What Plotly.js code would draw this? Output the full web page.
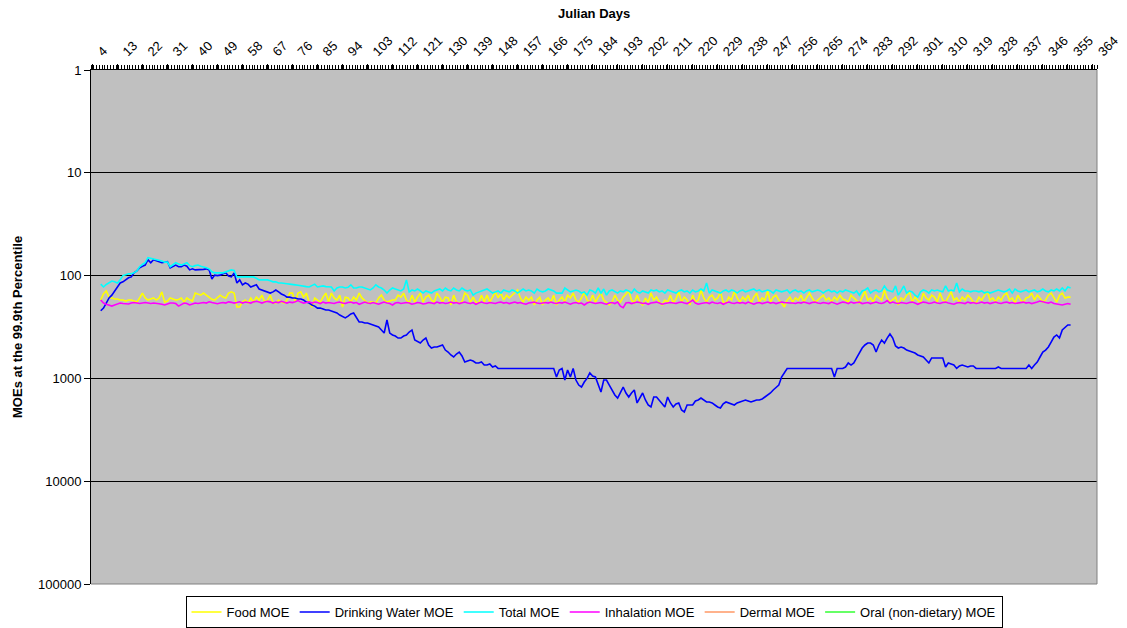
<!DOCTYPE html>
<html>
<head>
<meta charset="utf-8">
<script src="https://cdn.plot.ly/plotly-3.0.1.min.js"></script>
<style>
html,body{margin:0;padding:0;background:#ffffff;}
#chart{width:1127px;height:628px;}
</style>
</head>
<body>
<div id="chart"></div>
<script>
// Julian day of the first plotted value (one value per day)
const firstDay = 7;

// Category tick labels on the top axis
const tickDays = [4,13,22,31,40,49,58,67,76,85,94,103,112,121,130,139,148,157,166,175,184,193,202,211,220,229,238,247,256,265,274,283,292,301,310,319,328,337,346,355,364];
const yTickVals = [1,10,100,1000,10000,100000];
const yTickText = ["1","10","100","1000","10000","100000"];

// Food MOE (days 7..356)
const food = [
173,150,141,162,165,169,169,173,173,177,
173,173,177,181,165,148,165,173,169,165,
173,165,144,181,177,165,169,173,171,165,
181,165,172,177,148,152,155,148,155,165,
170,173,165,155,162,165,148,144,148,202,
202,181,173,185,165,181,162,173,155,181,
173,155,185,185,173,181,185,173,148,148,
181,148,144,162,148,181,202,165,173,181,
162,148,181,148,165,173,155,202,162,165,
181,162,173,148,165,173,185,181,181,185,
165,155,173,181,177,173,173,155,162,148,
173,185,155,181,162,148,181,162,155,173,
181,148,162,181,162,165,193,155,181,185,
181,148,155,181,162,181,185,155,181,155,
181,162,144,165,148,173,155,165,155,144,
138,165,181,162,173,162,193,173,162,193,
173,165,181,155,193,173,162,181,155,165,
148,173,181,165,144,173,181,155,181,162,
148,173,185,193,181,155,173,181,162,150,
141,173,185,155,181,193,165,181,148,173,
162,181,193,173,181,155,185,169,144,181,
162,173,193,155,181,173,138,165,181,162,
155,173,165,144,181,185,162,173,141,165,
181,162,173,155,185,162,148,181,165,173,
141,181,162,155,173,185,202,173,162,181,
165,173,155,181,162,148,165,181,173,162,
155,173,165,181,162,173,155,169,173,181,
155,165,173,185,162,141,173,165,181,155,
165,173,138,165,181,173,162,193,165,173,
155,144,181,162,173,185,148,165,173,155,
162,181,148,173,181,162,144,173,165,181,
162,173,155,165,181,185,162,173,155,141,
173,165,181,162,173,155,148,173,165,185,
155,173,181,165,162,148,173,155,165,181,
173,155,148,165,181,155,148,165,162,162
];

// Drinking Water MOE (days 7..356)
const drinkingWater = [
220,207,185,165,155,141,132,118,115,110,
105,103,94,90,84,81,79,70,75,70,
72,73,75,74,73,84,81,79,82,82,
79,81,88,86,88,88,88,87,86,88,
108,99,100,99,96,94,101,103,94,118,
110,123,118,121,129,126,123,135,138,141,
144,148,144,138,144,151,155,162,162,165,
165,169,169,173,181,185,193,198,207,207,
211,216,216,221,226,231,242,248,258,248,
236,231,258,283,283,289,289,296,302,309,
316,338,362,270,362,378,387,405,405,387,
378,354,338,423,438,453,423,405,473,506,
495,495,484,473,530,554,592,619,579,554,
605,693,677,662,677,708,708,693,741,741,
724,775,757,800,800,800,800,800,800,800,
800,800,800,800,800,800,800,800,800,800,
800,800,800,800,969,829,800,1037,829,969,
800,1037,1160,1213,1084,1000,886,947,969,1160,
1356,1037,1037,1160,1297,1450,1551,1356,1213,1387,
1517,1387,1297,1734,1551,1387,1622,1814,1897,1517,
1517,1622,1734,1897,1517,1734,1897,1770,1734,2030,
2123,1814,1814,1814,1660,1622,1551,1622,1697,1697,
1734,1814,1897,1940,1770,1697,1734,1770,1814,1734,
1697,1660,1622,1660,1697,1660,1622,1622,1586,1517,
1450,1387,1297,1213,1160,969,866,800,800,800,
800,800,800,800,800,800,800,800,800,800,
800,800,800,800,969,800,800,800,775,708,
741,708,633,566,506,473,453,453,473,554,
473,423,453,405,370,405,484,506,495,506,
530,542,554,566,592,605,619,662,708,633,
633,633,633,633,775,708,724,741,800,757,
741,757,775,757,757,800,800,800,800,800,
800,800,800,775,800,800,800,800,800,800,
800,800,800,800,741,800,741,693,619,554,
530,495,443,396,378,405,338,316,302,302
];

// Total MOE (days 7..356)
const total = [
121,129,122,118,113,115,118,110,100,98,
96,96,94,90,82,78,75,67,68,69,
70,70,72,74,74,82,78,75,77,79,
77,75,80,82,80,79,81,82,84,86,
92,94,94,94,94,92,90,88,89,103,
103,103,103,103,103,103,106,110,110,110,
110,112,115,115,118,118,118,120,121,123,
123,124,126,126,128,129,126,121,129,128,
126,128,129,129,141,132,129,129,132,130,
123,132,132,129,129,132,135,138,132,123,
129,132,138,148,138,132,135,138,141,135,
110,144,138,141,135,141,148,141,144,148,
141,138,135,141,132,138,141,132,138,141,
132,138,141,138,155,148,144,141,138,135,
141,148,144,141,148,138,141,144,138,141,
148,141,135,141,138,141,148,135,141,144,
141,135,138,141,148,148,148,132,138,144,
141,138,141,148,144,155,138,141,148,132,
148,135,155,141,138,144,148,141,144,138,
141,148,135,144,148,141,144,148,138,141,
138,144,141,148,138,141,144,148,141,138,
144,141,148,138,144,141,135,141,118,148,
138,141,144,148,141,138,144,138,141,148,
141,138,144,141,138,135,141,138,144,141,
138,141,148,138,141,144,141,138,148,141,
138,144,141,148,141,138,144,141,138,141,
148,141,138,144,141,148,141,144,138,141,
144,148,141,155,141,138,132,148,141,138,
144,141,126,138,141,144,126,155,141,126,
148,141,144,155,162,144,138,141,148,138,
141,138,141,144,126,141,138,141,118,144,
135,141,141,144,141,141,144,141,148,144,
148,144,141,138,141,144,141,135,148,135,
141,144,141,138,144,141,138,144,141,135,
141,144,138,141,135,141,132,141,129,132
];

// Inhalation MOE (days 7..356)
const inhalation = [
173,185,190,193,198,193,190,185,187,187,
189,185,183,185,187,185,183,185,187,185,
185,188,190,193,189,185,185,187,198,190,
185,187,193,189,185,187,185,183,185,180,
183,185,188,185,183,185,180,182,185,183,
180,185,181,183,185,180,178,181,185,181,
178,180,185,181,183,178,181,185,181,183,
180,175,181,185,183,180,185,181,183,187,
181,185,183,185,187,183,181,185,187,183,
181,185,183,190,185,181,185,187,183,185,
190,185,181,185,187,193,185,183,187,185,
183,185,190,187,183,185,189,187,183,185,
187,181,185,183,187,185,181,185,183,187,
185,181,185,187,183,190,185,181,185,187,
183,185,187,183,181,185,183,187,185,181,
185,183,187,190,185,183,181,185,187,185,
183,185,181,185,187,183,185,181,185,190,
185,183,187,185,193,185,181,185,187,185,
183,187,190,185,183,187,181,198,205,185,
183,187,185,181,183,187,185,190,185,183,
181,185,190,187,185,183,185,187,183,181,
185,187,181,173,185,190,187,185,183,187,
181,185,187,183,190,185,181,185,187,183,
185,183,187,181,185,190,185,183,187,185,
181,185,183,187,185,181,183,185,185,185,
187,183,185,181,185,187,183,181,185,187,
183,185,187,181,185,190,185,181,183,187,
181,185,183,181,187,185,183,187,185,181,
185,187,183,175,185,181,185,187,183,185,
187,183,181,185,190,185,181,183,187,185,
181,185,187,183,181,185,187,190,185,183,
185,187,181,185,183,187,185,181,185,183,
187,185,181,185,187,183,181,185,183,187,
185,183,181,185,183,187,185,181,177,181,
183,185,181,187,190,193,193,190,187,190
];

// Dermal and oral (non-dietary) MOEs: no line is visible in the picture,
// so each holds a single missing value (legend entry only)
const dermal = [null];
const oral = [null];

const days = food.map((_, i) => firstDay + i);

function series(name, values, color) {
  return {
    type: 'scatter', mode: 'lines', name: name,
    x: days.slice(0, values.length), y: values,
    line: {color: color, width: 1.6},
    hoverinfo: 'skip'
  };
}

const traces = [
  series('Food MOE', food, '#FFFF00'),
  series('Drinking Water MOE', drinkingWater, '#0000FF'),
  series('Total MOE', total, '#00FFFF'),
  series('Inhalation MOE', inhalation, '#FF00FF'),
  series('Dermal MOE', dermal, '#FF9966'),
  series('Oral (non-dietary) MOE', oral, '#33FF33')
];

const FONT = 'Liberation Sans, Arial, sans-serif';

const layout = {
  width: 1127, height: 628,
  margin: {l: 91, r: 30, t: 70, b: 44, pad: 0, autoexpand: false},
  paper_bgcolor: '#ffffff',
  plot_bgcolor: '#C0C0C0',
  font: {family: FONT, size: 13, color: '#000'},
  showlegend: true,
  legend: {
    orientation: 'h', x: 0.5, xanchor: 'center',
    yref: 'container', y: 0.0, yanchor: 'bottom',
    bordercolor: '#000', borderwidth: 1, bgcolor: '#fff',
    font: {family: FONT, size: 13, color: '#000'},
    itemwidth: 30, tracegroupgap: 0
  },
  xaxis: {
    type: 'linear', side: 'top', range: [3.5, 365.5], fixedrange: true,
    tickmode: 'array', tickvals: tickDays, ticktext: tickDays.map(String),
    tickangle: -45, ticks: 'outside', ticklen: 5, tickcolor: '#000', tickwidth: 1,
    ticklabelshift: 6,
    tickfont: {family: FONT, size: 13, color: '#000'},
    minor: {tickmode: 'linear', tick0: 3.5, dtick: 1, ticks: 'outside', ticklen: 4, tickcolor: '#000', tickwidth: 1, showgrid: false},
    showline: true, linecolor: '#000', linewidth: 1,
    showgrid: false, zeroline: false, automargin: false
  },
  yaxis: {
    type: 'log', range: [5, 0], fixedrange: true,
    tickmode: 'array', tickvals: yTickVals, ticktext: yTickText,
    ticks: 'outside', ticklen: 6, tickcolor: '#000', tickwidth: 1,
    tickfont: {family: FONT, size: 13, color: '#000'},
    showline: true, linecolor: '#000', linewidth: 1,
    showgrid: true, gridcolor: '#000', gridwidth: 1, zeroline: false, automargin: false
  },
  shapes: [
    {type: 'line', xref: 'paper', yref: 'paper', x0: 1, x1: 1, y0: 0, y1: 1, line: {color: '#808080', width: 1}},
    {type: 'line', xref: 'paper', yref: 'paper', x0: 0, x1: 1, y0: 0, y1: 0, line: {color: '#808080', width: 1}}
  ],
  annotations: [
    {text: '<b>Julian Days</b>', xref: 'paper', yref: 'paper', x: 0.5, y: 1.109, xanchor: 'center', yanchor: 'middle', showarrow: false, font: {family: FONT, size: 13, color: '#000'}},
    {text: '<b>MOEs at the 99.9th Percentile</b>', xref: 'paper', yref: 'paper', x: -0.0736, y: 0.50, xanchor: 'center', yanchor: 'middle', textangle: -90, showarrow: false, font: {family: FONT, size: 13, color: '#000'}}
  ]
};

Plotly.newPlot('chart', traces, layout, {displayModeBar: false, staticPlot: true});
</script>
</body>
</html>
